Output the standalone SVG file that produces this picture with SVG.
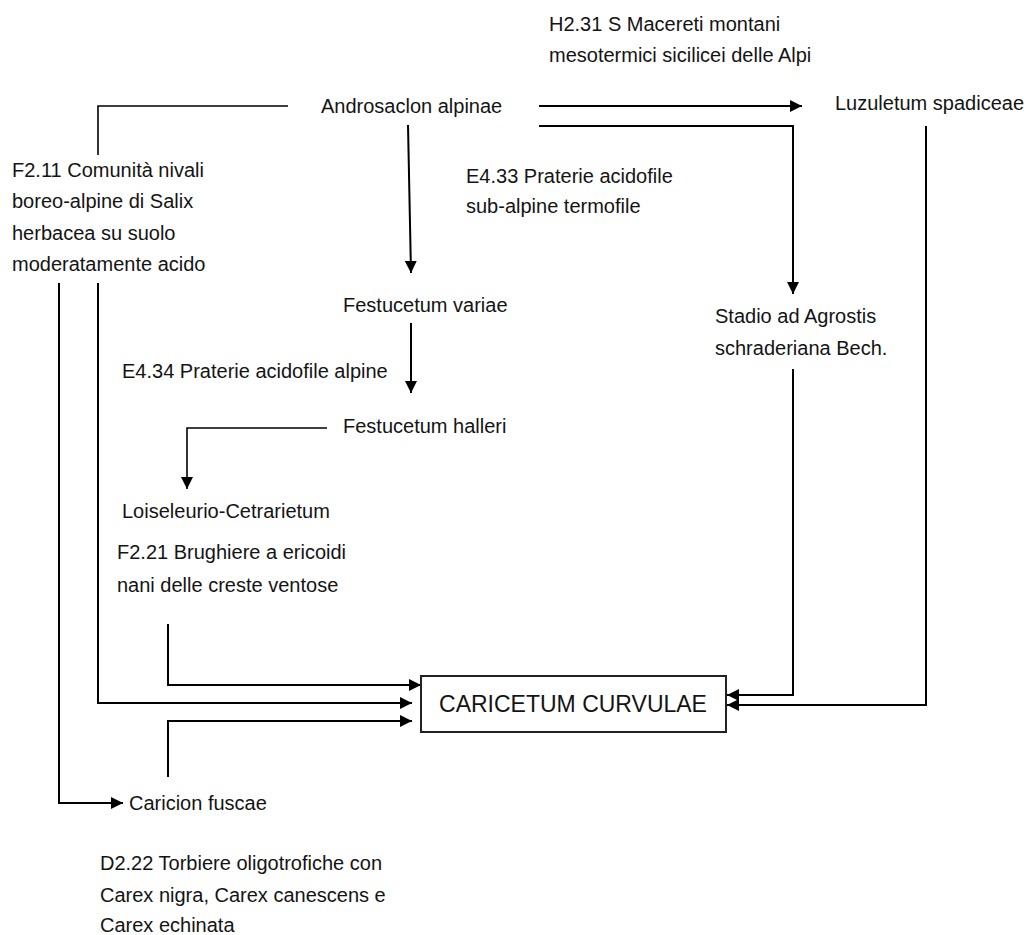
<svg xmlns="http://www.w3.org/2000/svg" width="1027" height="935" viewBox="0 0 1027 935">
<style>
text{font-family:"Liberation Sans",Arial,sans-serif;font-size:20px;fill:#141414}
.big{font-size:23px}
.c{fill:none;stroke:#000;stroke-width:2}
.thin{stroke-width:1.6}
.box{fill:#fff;stroke:#222;stroke-width:2}
</style>
<defs>
<marker id="ah" markerWidth="12" markerHeight="12" viewBox="0 0 12 12" refX="12" refY="6" orient="auto" markerUnits="userSpaceOnUse"><path d="M0,0 L12,6 L0,12 z" fill="#000"/></marker>
</defs>
<rect width="1027" height="935" fill="#fff"/>
<g id="connectors">
<polyline class="c thin" points="288,106 98,106 98,155"/>
<polyline class="c" points="539,106 802,106" marker-end="url(#ah)"/>
<polyline class="c" points="539,126 793,126 793,294" marker-end="url(#ah)"/>
<polyline class="c" points="408,125 411,273" marker-end="url(#ah)"/>
<polyline class="c" points="411,323 411,393" marker-end="url(#ah)"/>
<polyline class="c thin" points="327,428 187,428 187,489" marker-end="url(#ah)"/>
<polyline class="c" points="59,283 59,803 123,803" marker-end="url(#ah)"/>
<polyline class="c" points="98,283 98,703 412,703" marker-end="url(#ah)"/>
<polyline class="c" points="168,624 168,685 421,685" marker-end="url(#ah)"/>
<polyline class="c" points="168,777 168,721 412,721" marker-end="url(#ah)"/>
<polyline class="c" points="793,369 793,695 727,695" marker-end="url(#ah)"/>
<polyline class="c" points="926,126 926,705 727,705" marker-end="url(#ah)"/>
</g>
<g id="h231"><text x="549" y="31">H2.31 S Macereti montani</text><text x="549" y="62">mesotermici sicilicei delle Alpi</text></g>
<g id="androsaclon"><text x="321" y="113">Androsaclon alpinae</text></g>
<g id="luzuletum"><text x="835" y="110">Luzuletum spadiceae</text></g>
<g id="f211"><text x="12" y="177">F2.11 Comunità nivali</text><text x="12" y="208">boreo-alpine di Salix</text><text x="12" y="240">herbacea su suolo</text><text x="12" y="271">moderatamente acido</text></g>
<g id="e433"><text x="466" y="183">E4.33 Praterie acidofile</text><text x="466" y="213">sub-alpine termofile</text></g>
<g id="festucetum-variae"><text x="343" y="312">Festucetum variae</text></g>
<g id="stadio"><text x="715" y="323">Stadio ad Agrostis</text><text x="715" y="355">schraderiana Bech.</text></g>
<g id="e434"><text x="122" y="378">E4.34 Praterie acidofile alpine</text></g>
<g id="festucetum-halleri"><text x="343" y="433">Festucetum halleri</text></g>
<g id="loiseleurio"><text x="122" y="518">Loiseleurio-Cetrarietum</text></g>
<g id="f221"><text x="117" y="559">F2.21 Brughiere a ericoidi</text><text x="117" y="592">nani delle creste ventose</text></g>
<g id="caricetum"><rect class="box" x="421" y="676" width="305" height="56"/><text class="big" x="573" y="712" text-anchor="middle">CARICETUM CURVULAE</text></g>
<g id="caricion"><text x="129" y="810">Caricion fuscae</text></g>
<g id="d222"><text x="100" y="870">D2.22 Torbiere oligotrofiche con</text><text x="100" y="902">Carex nigra, Carex canescens e</text><text x="100" y="932">Carex echinata</text></g>
</svg>
